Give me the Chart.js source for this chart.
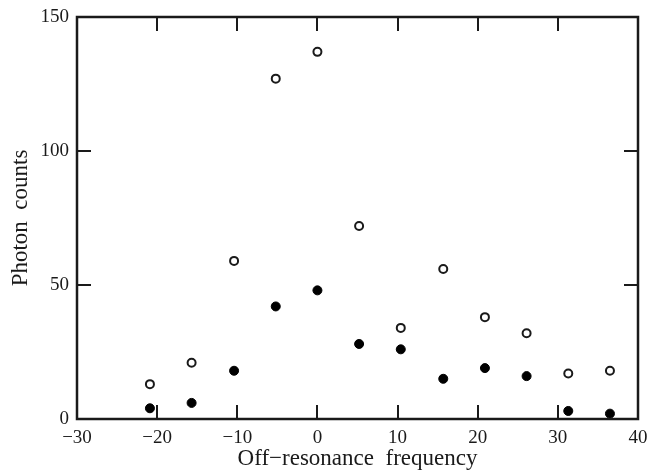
<!DOCTYPE html>
<html>
<head>
<meta charset="utf-8">
<script src="https://cdn.jsdelivr.net/npm/chart.js@4.4.1/dist/chart.umd.min.js"></script>
<style>
  html, body { margin: 0; padding: 0; background: #fff; }
  #wrap { width: 649px; height: 470px; }
</style>
</head>
<body>
<div id="wrap"><canvas id="plot" width="649" height="470"></canvas></div>
<script>
// detuning steps and counts for the two runs
const freq = [-20.9, -15.7, -10.4, -5.2, 0, 5.2, 10.4, 15.7, 20.9, 26.1, 31.3, 36.5];
const countsOpen = [13, 21, 59, 127, 137, 72, 34, 56, 38, 32, 17, 18];
const countsFilled = [4, 6, 18, 42, 48, 28, 26, 15, 19, 16, 3, 2];

const xTicks = [-30, -20, -10, 0, 10, 20, 30, 40];
const yTicks = [0, 50, 100, 150];

const ink = '#1a1a1a';
const serif = 'Liberation Serif, Times New Roman, serif';

// box around the plot with inward ticks on all four sides
const frameTicks = {
  id: 'frameTicks',
  afterDraw(chart) {
    const { ctx, chartArea: a, scales } = chart;
    const len = 14;
    ctx.save();
    ctx.strokeStyle = ink;
    ctx.lineWidth = 2;
    ctx.beginPath();
    xTicks.forEach(v => {
      const px = Math.round(scales.x.getPixelForValue(v));
      ctx.moveTo(px, a.bottom); ctx.lineTo(px, a.bottom - len);
      ctx.moveTo(px, a.top); ctx.lineTo(px, a.top + len);
    });
    yTicks.forEach(v => {
      const py = Math.round(scales.y.getPixelForValue(v));
      ctx.moveTo(a.left, py); ctx.lineTo(a.left + len, py);
      ctx.moveTo(a.right, py); ctx.lineTo(a.right - len, py);
    });
    ctx.stroke();
    ctx.lineWidth = 2.5;
    ctx.strokeRect(a.left, a.top, a.right - a.left, a.bottom - a.top);
    ctx.restore();
  }
};

const minus = v => String(v).replace('-', '\u2212');

new Chart(document.getElementById('plot'), {
  type: 'scatter',
  data: {
    datasets: [
      {
        data: freq.map((f, i) => ({ x: f, y: countsOpen[i] })),
        pointStyle: 'circle',
        pointRadius: 4,
        pointBorderWidth: 2,
        borderColor: ink,
        backgroundColor: '#fff'
      },
      {
        data: freq.map((f, i) => ({ x: f, y: countsFilled[i] })),
        pointStyle: 'circle',
        pointRadius: 4.5,
        pointBorderWidth: 1,
        borderColor: '#000',
        backgroundColor: '#000'
      }
    ]
  },
  options: {
    responsive: false,
    animation: false,
    layout: { padding: { top: 17, right: 11, left: 0, bottom: 0 } },
    plugins: { legend: { display: false }, tooltip: { enabled: false } },
    scales: {
      x: {
        type: 'linear',
        min: -30, max: 40,
        afterBuildTicks: s => { s.ticks = xTicks.map(v => ({ value: v })); },
        afterFit: s => { s.height = 51; s.paddingLeft = 0; s.paddingRight = 0; },
        grid: { display: false, drawTicks: false },
        border: { display: false },
        ticks: { color: ink, font: { family: serif, size: 19 }, padding: 8, maxRotation: 0, callback: minus },
        title: { display: true, text: 'Off\u2212resonance  frequency', color: ink, font: { family: serif, size: 23, lineHeight: 1 }, padding: { top: 0, bottom: 0 } }
      },
      y: {
        type: 'linear',
        min: 0, max: 150,
        afterBuildTicks: s => { s.ticks = yTicks.map(v => ({ value: v })); },
        afterFit: s => { s.width = 77; s.paddingTop = 0; s.paddingBottom = 0; },
        grid: { display: false, drawTicks: false },
        border: { display: false },
        ticks: { color: ink, font: { family: serif, size: 19 }, padding: 8 },
        title: { display: true, text: 'Photon  counts', color: ink, font: { family: serif, size: 23, lineHeight: 1 }, padding: { top: 9.5, bottom: 0 } }
      }
    }
  },
  plugins: [frameTicks]
});
</script>
</body>
</html>
